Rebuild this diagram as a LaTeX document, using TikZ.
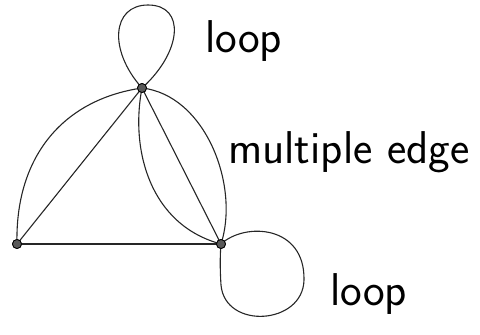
\documentclass[tikz,border=0pt]{standalone}
\begin{document}
\begin{tikzpicture}[x=1pt,y=-1pt,
  vertex/.style={circle,draw=black,fill=black!65,inner sep=0pt,minimum size=9pt,line width=0.8pt},
  edge/.style={line width=1.1pt,black!85},
  lbl/.style={font=\sffamily\fontsize{46}{46}\selectfont,inner sep=0pt}]
\useasboundingbox (0,0) rectangle (480,335);
\node[vertex] (T) at (142,88) {};
\node[vertex] (L) at (17,244) {};
\node[vertex] (R) at (221,244) {};
% loops
\draw[edge] (T.center) .. controls (108,50) and (112,5) .. (148,5) .. controls (186,5) and (182,52) .. (T.center);
\draw[edge] (R.center) .. controls (245,222) and (305,225) .. (304,280) .. controls (303,325) and (225,330) .. (221,285) .. controls (220,270) and (220,255) .. (R.center);
% edges
\draw[edge] (T.center) .. controls (60,100) and (15,160) .. (L.center);
\draw[edge] (T.center) -- (L.center);
\draw[edge] (L.center) -- (R.center);
\draw[edge] (T.center) -- (R.center);
\draw[edge] (T.center) .. controls (130,150) and (150,225) .. (R.center);
\draw[edge] (T.center) .. controls (205,95) and (240,185) .. (R.center);
% redraw vertices on top
\node[vertex] at (T) {};
\node[vertex] at (L) {};
\node[vertex] at (R) {};
% labels
\node[lbl,anchor=base west] (l1) at (205,52) {loop};
\node[lbl,anchor=base west] (l2) at (228,163) {multiple edge};
\node[lbl,anchor=base west] (l3) at (330,305) {loop};
\end{tikzpicture}
\end{document}
